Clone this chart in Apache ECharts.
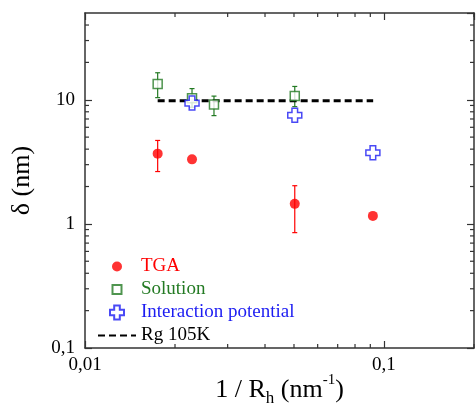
<!DOCTYPE html>
<html>
<head>
<meta charset="utf-8">
<script src="https://cdn.jsdelivr.net/npm/echarts@6/dist/echarts.min.js"></script>
<style>
  html, body { margin: 0; padding: 0; background: #fff; }
  #chart { width: 476px; height: 405px; }
</style>
</head>
<body>
<div id="chart"></div>
<script>
// data (x = 1/Rh in nm^-1, y = delta in nm)
var tgaX = [0.0175, 0.0228, 0.0503, 0.0918];
var tgaY = [3.68, 3.31, 1.45, 1.16];
var tgaErr = [[2.64, 4.70], null, [0.85, 2.03], null];

var solX = [0.0175, 0.0228, 0.027, 0.0503];
var solY = [13.4, 10.3, 9.17, 10.7];
var solErr = [[10.4, 16.5], [8.7, 12.3], [7.45, 10.7], [8.8, 12.8]];

var intX = [0.0228, 0.0503, 0.0918];
var intY = [9.4, 7.5, 3.74];

var rgX = [0.0175, 0.092];
var rgY = [9.8, 9.8];

// minor tick positions of the log axes
var xMinor = [0.02, 0.03, 0.04, 0.05, 0.06, 0.07, 0.08, 0.09, 0.2];
var yMinor = [0.2, 0.3, 0.4, 0.5, 0.6, 0.7, 0.8, 0.9, 2, 3, 4, 5, 6, 7, 8, 9, 20, 30, 40];

var RED = '#ff0000', GREEN = '#237a23', BLUE = '#1c1cf2';
var FONT = 'Liberation Serif';
var CROSS = 'path://M3,0 H7 V3 H10 V7 H7 V10 H3 V7 H0 V3 H3 Z';

function pairs(xs, ys) {
    return xs.map(function (x, i) { return [x, ys[i]]; });
}
function errData(xs, errs) {
    var out = [];
    errs.forEach(function (e, i) {
        if (e) out.push([xs[i], e[0], e[1]]);
    });
    return out;
}
function errSeries(data, color) {
    return {
        type: 'custom',
        silent: true,
        z: 1,
        data: data,
        encode: { x: 0, y: [1, 2] },
        renderItem: function (params, api) {
            var lo = api.coord([api.value(0), api.value(1)]);
            var hi = api.coord([api.value(0), api.value(2)]);
            var w = 2.5;
            var st = { stroke: color, lineWidth: 1.2 };
            return {
                type: 'group',
                children: [
                    { type: 'line', shape: { x1: lo[0], y1: lo[1], x2: hi[0], y2: hi[1] }, style: st },
                    { type: 'line', shape: { x1: lo[0] - w, y1: lo[1], x2: lo[0] + w, y2: lo[1] }, style: st },
                    { type: 'line', shape: { x1: hi[0] - w, y1: hi[1], x2: hi[0] + w, y2: hi[1] }, style: st }
                ]
            };
        }
    };
}
function minorTicks(vals, horizontal) {
    return {
        type: 'custom',
        silent: true,
        data: vals.map(function (v) { return horizontal ? [v, 1] : [0.02, v]; }),
        renderItem: function (params, api) {
            var cs = params.coordSys;
            var p = api.coord([api.value(0), api.value(1)]);
            var st = { stroke: '#333', lineWidth: 1.2 };
            var len = 4;
            if (horizontal) {
                return { type: 'group', children: [
                    { type: 'line', shape: { x1: p[0], y1: cs.y + cs.height, x2: p[0], y2: cs.y + cs.height - len }, style: st },
                    { type: 'line', shape: { x1: p[0], y1: cs.y, x2: p[0], y2: cs.y + len }, style: st }
                ]};
            }
            return { type: 'group', children: [
                { type: 'line', shape: { x1: cs.x, y1: p[1], x2: cs.x + len, y2: p[1] }, style: st },
                { type: 'line', shape: { x1: cs.x + cs.width, y1: p[1], x2: cs.x + cs.width - len, y2: p[1] }, style: st }
            ]};
        }
    };
}
function comma(v) {
    return String(Number(v.toPrecision(3))).replace('.', ',');
}

var axisLine = { lineStyle: { color: '#333', width: 1.5 } };
var majorTick = { inside: true, length: 7, lineStyle: { color: '#333', width: 1.2 } };

var myChart = echarts.init(document.getElementById('chart'));
var option = {
    animation: false,
    grid: { left: 85, right: 2, top: 13, bottom: 57, containLabel: false, outerBoundsMode: 'none' },
    legend: {
        orient: 'vertical',
        left: 97,
        top: 257,
        padding: 0,
        itemWidth: 38,
        itemHeight: 14,
        itemGap: 4,
        textStyle: { fontFamily: FONT, fontSize: 19 },
        data: [
            // blank moves pad the icons so they come out at the marker sizes
            { name: 'TGA', icon: 'path://M-2,-2 M0,5 A5,5 0 1 1 10,5 A5,5 0 1 1 0,5 Z M12,12', textStyle: { color: RED } },
            { name: 'Solution', icon: 'path://M-2.5,-2.5 M0,0 H9 V9 H0 Z M11.5,11.5', textStyle: { color: GREEN } },
            { name: 'Interaction potential', icon: CROSS, textStyle: { color: BLUE } },
            { name: 'Rg 105K', itemStyle: { opacity: 0 }, textStyle: { color: '#000' } }
        ]
    },
    xAxis: [{
        type: 'log',
        min: 0.01,
        max: 0.2,
        axisLine: axisLine,
        axisTick: majorTick,
        splitLine: { show: false },
        axisLabel: {
            fontFamily: FONT, fontSize: 19, color: '#000', margin: 8,
            showMaxLabel: false, formatter: comma
        },
        name: '{a|1 / R}{sub|h}{a| (nm}{sup|-1}{a|)}',
        nameLocation: 'middle',
        nameGap: 25,
        nameMoveOverlap: false,
        nameTextStyle: {
            rich: {
                a: { fontFamily: FONT, fontSize: 26, color: '#000', lineHeight: 34 },
                sub: { fontFamily: FONT, fontSize: 17, color: '#000', verticalAlign: 'bottom', lineHeight: 13 },
                sup: { fontFamily: FONT, fontSize: 15, color: '#000', verticalAlign: 'top', lineHeight: 13 }
            }
        }
    }, {
        type: 'log',
        position: 'top',
        min: 0.01,
        max: 0.2,
        axisLine: axisLine,
        axisTick: majorTick,
        axisLabel: { show: false },
        splitLine: { show: false }
    }],
    yAxis: [{
        type: 'log',
        min: 0.1,
        max: 50,
        axisLine: axisLine,
        axisTick: majorTick,
        splitLine: { show: false },
        axisLabel: {
            fontFamily: FONT, fontSize: 19, color: '#000', margin: 10,
            showMaxLabel: false, formatter: comma
        },
        name: 'δ (nm)',
        nameLocation: 'middle',
        nameGap: 50,
        nameMoveOverlap: false,
        nameTextStyle: { fontFamily: FONT, fontSize: 26, color: '#000' }
    }, {
        type: 'log',
        position: 'right',
        min: 0.1,
        max: 50,
        axisLine: axisLine,
        axisTick: majorTick,
        axisLabel: { show: false },
        splitLine: { show: false }
    }],
    series: [
        errSeries(errData(tgaX, tgaErr), RED),
        errSeries(errData(solX, solErr), GREEN),
        minorTicks(xMinor, true),
        minorTicks(yMinor, false),
        {
            name: 'Rg 105K',
            type: 'line',
            data: pairs(rgX, rgY),
            symbol: 'none',
            z: 2,
            lineStyle: { color: '#000', width: 3, type: [7, 4] },
            itemStyle: { color: '#000' }
        },
        {
            name: 'TGA',
            type: 'scatter',
            data: pairs(tgaX, tgaY),
            symbol: 'circle',
            symbolSize: 10,
            z: 3,
            itemStyle: { color: RED }
        },
        {
            name: 'Solution',
            type: 'scatter',
            data: pairs(solX, solY),
            symbol: 'rect',
            symbolSize: 9,
            z: 3,
            itemStyle: { color: '#fff', borderColor: GREEN, borderWidth: 1.5 }
        },
        {
            name: 'Interaction potential',
            type: 'scatter',
            data: pairs(intX, intY),
            symbol: CROSS,
            symbolSize: 14,
            z: 4,
            itemStyle: { color: '#fff', borderColor: BLUE, borderWidth: 1.5 }
        }
    ]
};
myChart.setOption(option);
</script>
</body>
</html>
